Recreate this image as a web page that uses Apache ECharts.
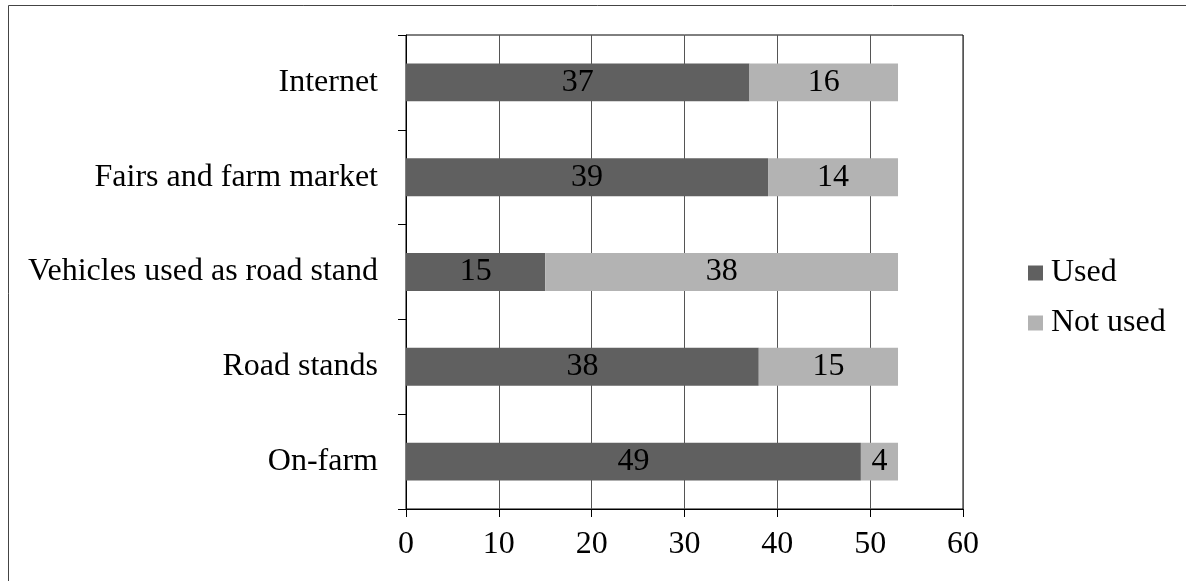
<!DOCTYPE html>
<html>
<head>
<meta charset="utf-8">
<style>html,body{margin:0;padding:0;background:#fff}#c{width:1186px;height:581px}</style>
<script src="https://cdn.jsdelivr.net/npm/echarts@6/dist/echarts.min.js"></script>
</head>
<body>
<div id="c"></div>
<script>
const categories = ["On-farm", "Road stands", "Vehicles used as road stand", "Fairs and farm market", "Internet"];
const usedValues = [49, 38, 15, 39, 37];
const notUsedValues = [4, 15, 38, 14, 16];
const seriesNames = ["Used", "Not used"];

const chart = echarts.init(document.getElementById('c'), null, {renderer: 'canvas'});
const font = "'Liberation Serif', 'Times New Roman', serif";
const FS = 32;
const lbl = {show: true, position: 'inside', color: '#000', fontFamily: font, fontSize: FS};
chart.setOption({
  animation: false,
  backgroundColor: '#fff',
  textStyle: {fontFamily: font},
  graphic: [
    {type: 'polyline', shape: {points: [[8.5, 600], [8.5, 5.5], [1200, 5.5]]}, style: {stroke: '#444', lineWidth: 1, fill: null}, silent: true}
  ],
  grid: {left: 406, top: 35, right: 223, bottom: 72, show: true, borderColor: '#000', borderWidth: 1, containLabel: false},
  legend: {
    orient: 'vertical', left: 1023, top: 252, itemWidth: 15, itemHeight: 15, itemGap: 18,
    icon: 'rect', data: seriesNames,
    textStyle: {fontFamily: font, fontSize: FS, color: '#000', padding: [0, 0, 0, 3]}
  },
  xAxis: {
    type: 'value', min: 0, max: 60, interval: 10,
    axisLine: {show: true, lineStyle: {color: '#000', width: 1}},
    axisTick: {show: true, length: 8, lineStyle: {color: '#000'}},
    axisLabel: {fontFamily: font, fontSize: FS, color: '#000', margin: 20},
    splitLine: {show: true, lineStyle: {color: '#555', width: 1}}
  },
  yAxis: {
    type: 'category', data: categories,
    axisLine: {show: true, lineStyle: {color: '#000', width: 1}},
    axisTick: {show: true, length: 8, inside: false, lineStyle: {color: '#000'}},
    axisLabel: {fontFamily: font, fontSize: FS, color: '#000', margin: 28},
    splitLine: {show: false}
  },
  series: [
    {name: seriesNames[0], type: 'bar', stack: 's', data: usedValues, barWidth: '40%', itemStyle: {color: '#606060'}, label: lbl},
    {name: seriesNames[1], type: 'bar', stack: 's', data: notUsedValues, barWidth: '40%', itemStyle: {color: '#b3b3b3'}, label: lbl}
  ]
});
</script>
</body>
</html>
